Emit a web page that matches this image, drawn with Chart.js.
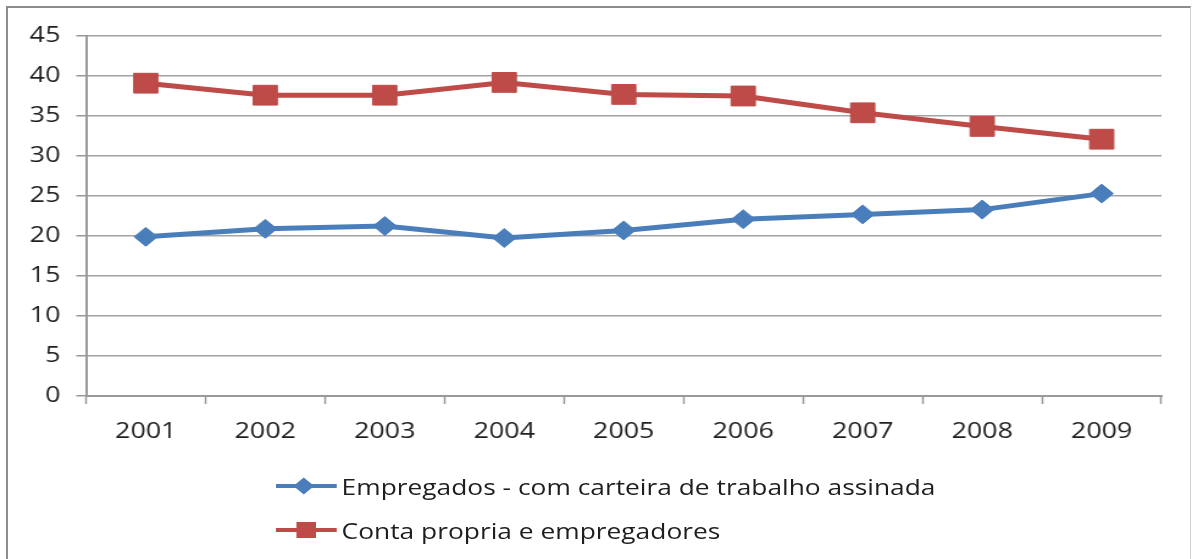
<!DOCTYPE html>
<html>
<head>
<meta charset="utf-8">
<script src="https://cdn.jsdelivr.net/npm/chart.js@4"></script>
<style>
  body { margin: 0; background: #fff; overflow: hidden; }
  #frame {
    position: absolute; left: 6px; top: 6px; width: 1182px; height: 600px;
    border-top: 2px solid #8c8c8c; border-left: 2px solid #8c8c8c; border-right: 1px solid #d0d0d0;
  }
  /* the original picture is stretched sideways, so is this one */
  #wrap {
    position: absolute; left: 0; top: 0; width: 977px; height: 559px;
    transform: scaleX(1.22); transform-origin: 0 0;
  }
  #box { position: absolute; left: 0; top: 0; width: 977px; height: 559px; }
  .leg {
    position: absolute; left: 226px; height: 30px; display: flex; align-items: center;
    font-family: "Open Sans", sans-serif; font-size: 21.6px; color: #1e1e1e; white-space: nowrap;
  }
  .mk { position: relative; width: 50px; height: 4px; margin-right: 4px; }
  .mk i { position: absolute; display: block; }
</style>
</head>
<body>
<div id="frame"></div>
<div id="wrap">
  <div id="box"><canvas id="lineChart"></canvas></div>
  <div class="leg" id="leg1" style="top:471px"></div>
  <div class="leg" id="leg2" style="top:515px"></div>
</div>
<script>
var years = ['2001', '2002', '2003', '2004', '2005', '2006', '2007', '2008', '2009'];
var empregados = [19.9, 20.9, 21.25, 19.75, 20.7, 22.1, 22.7, 23.3, 25.3];
var contaPropria = [39.1, 37.6, 37.6, 39.2, 37.7, 37.5, 35.4, 33.7, 32.1];
var seriesNames = ['Empregados - com carteira de trabalho assinada', 'Conta propria e empregadores'];
var yMin = 0, yMax = 45, yStep = 5;

var blue = '#4a7ebb';
var red = '#be4b48';

window.onload = function() {
    var ctx = document.getElementById('lineChart').getContext('2d');
    var lineChart = new Chart(ctx, {
        type: 'line',
        data: {
            labels: years,
            datasets: [{
                label: seriesNames[0],
                data: empregados,
                borderColor: blue,
                backgroundColor: blue,
                borderWidth: 5,
                pointStyle: 'rectRot',
                pointRadius: 9.5,
                pointBorderWidth: 1,
                pointBorderColor: blue,
                tension: 0
            }, {
                label: seriesNames[1],
                data: contaPropria,
                borderColor: red,
                backgroundColor: red,
                borderWidth: 5,
                pointStyle: 'rect',
                pointRadius: 14,
                pointBorderWidth: 1,
                pointBorderColor: red,
                tension: 0
            }]
        },
        options: {
            responsive: true,
            maintainAspectRatio: false,
            animation: false,
            layout: { padding: { top: 36, right: 25, left: 0, bottom: 103 } },
            plugins: {
                legend: { display: false },
                tooltip: { enabled: false }
            },
            scales: {
                x: {
                    offset: true,
                    afterFit: function(scale) { scale.height = 60; },
                    grid: {
                        offset: true,
                        drawOnChartArea: false,
                        drawTicks: true,
                        tickLength: 8,
                        tickWidth: 1.5,
                        tickColor: '#999'
                    },
                    border: { color: '#999', width: 2 },
                    ticks: {
                        color: '#1e1e1e',
                        padding: 15,
                        maxRotation: 0,
                        font: { family: 'Open Sans', size: 22 }
                    }
                },
                y: {
                    min: yMin,
                    max: yMax,
                    afterFit: function(scale) { scale.width = 70.5; },
                    grid: {
                        color: '#a3a3a3',
                        lineWidth: 1.5,
                        tickLength: 8,
                        tickColor: '#999'
                    },
                    border: { color: '#999', width: 2 },
                    ticks: {
                        stepSize: yStep,
                        color: '#1e1e1e',
                        padding: 13,
                        font: { family: 'Open Sans', size: 22 }
                    }
                }
            }
        }
    });

    // legend stacked under the plot, one series per row
    var marks = [
        '<i style="left:17px;top:-4px;width:12px;height:12px;background:' + blue + ';transform:rotate(45deg)"></i>',
        '<i style="left:17px;top:-6px;width:16px;height:16px;background:' + red + '"></i>'
    ];
    var colors = [blue, red];
    ['leg1', 'leg2'].forEach(function(id, i) {
        document.getElementById(id).innerHTML =
            '<span class="mk" style="background:' + colors[i] + '">' + marks[i] + '</span>' +
            '<span>' + seriesNames[i] + '</span>';
    });
};
</script>
</body>
</html>
